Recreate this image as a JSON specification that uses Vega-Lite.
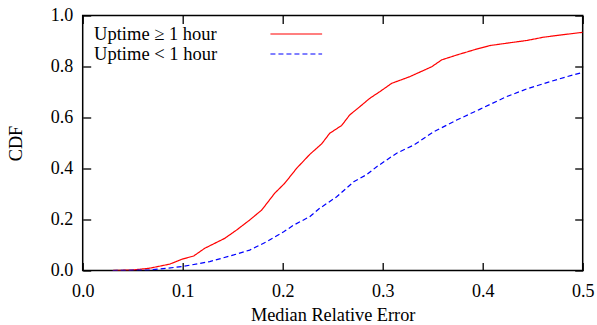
{
  "$schema": "https://vega.github.io/schema/vega-lite/v6.json",
  "width": 500,
  "height": 255,
  "autosize": {"type": "none"},
  "padding": {"left": 82.7, "top": 15.5, "right": 14.3, "bottom": 54.5},
  "background": "white",
  "config": {
    "font": "Liberation Serif",
    "view": {"stroke": "black", "strokeWidth": 1.5},
    "axis": {
      "domain": false,
      "grid": false,
      "tickSize": -8,
      "tickColor": "black",
      "tickWidth": 1.3,
      "labelFlush": false,
      "labelOverlap": false,
      "labelFont": "Liberation Serif",
      "labelFontSize": 18,
      "labelColor": "black",
      "titleFont": "Liberation Serif",
      "titleFontSize": 18.3,
      "titleFontWeight": "normal",
      "titleColor": "black"
    }
  },
  "data": {
    "values": [
      {"x": 0.03, "y": 0.0, "series": "Uptime ≥ 1 hour"},
      {"x": 0.05, "y": 0.002, "series": "Uptime ≥ 1 hour"},
      {"x": 0.067, "y": 0.009, "series": "Uptime ≥ 1 hour"},
      {"x": 0.087, "y": 0.025, "series": "Uptime ≥ 1 hour"},
      {"x": 0.099, "y": 0.044, "series": "Uptime ≥ 1 hour"},
      {"x": 0.111, "y": 0.057, "series": "Uptime ≥ 1 hour"},
      {"x": 0.122, "y": 0.087, "series": "Uptime ≥ 1 hour"},
      {"x": 0.142, "y": 0.126, "series": "Uptime ≥ 1 hour"},
      {"x": 0.154, "y": 0.159, "series": "Uptime ≥ 1 hour"},
      {"x": 0.167, "y": 0.198, "series": "Uptime ≥ 1 hour"},
      {"x": 0.179, "y": 0.237, "series": "Uptime ≥ 1 hour"},
      {"x": 0.192, "y": 0.303, "series": "Uptime ≥ 1 hour"},
      {"x": 0.202, "y": 0.342, "series": "Uptime ≥ 1 hour"},
      {"x": 0.214, "y": 0.401, "series": "Uptime ≥ 1 hour"},
      {"x": 0.227, "y": 0.455, "series": "Uptime ≥ 1 hour"},
      {"x": 0.239, "y": 0.497, "series": "Uptime ≥ 1 hour"},
      {"x": 0.247, "y": 0.538, "series": "Uptime ≥ 1 hour"},
      {"x": 0.259, "y": 0.569, "series": "Uptime ≥ 1 hour"},
      {"x": 0.267, "y": 0.61, "series": "Uptime ≥ 1 hour"},
      {"x": 0.277, "y": 0.642, "series": "Uptime ≥ 1 hour"},
      {"x": 0.287, "y": 0.675, "series": "Uptime ≥ 1 hour"},
      {"x": 0.297, "y": 0.701, "series": "Uptime ≥ 1 hour"},
      {"x": 0.309, "y": 0.734, "series": "Uptime ≥ 1 hour"},
      {"x": 0.327, "y": 0.76, "series": "Uptime ≥ 1 hour"},
      {"x": 0.349, "y": 0.799, "series": "Uptime ≥ 1 hour"},
      {"x": 0.359, "y": 0.826, "series": "Uptime ≥ 1 hour"},
      {"x": 0.374, "y": 0.845, "series": "Uptime ≥ 1 hour"},
      {"x": 0.391, "y": 0.865, "series": "Uptime ≥ 1 hour"},
      {"x": 0.407, "y": 0.882, "series": "Uptime ≥ 1 hour"},
      {"x": 0.427, "y": 0.893, "series": "Uptime ≥ 1 hour"},
      {"x": 0.444, "y": 0.902, "series": "Uptime ≥ 1 hour"},
      {"x": 0.461, "y": 0.915, "series": "Uptime ≥ 1 hour"},
      {"x": 0.481, "y": 0.925, "series": "Uptime ≥ 1 hour"},
      {"x": 0.5, "y": 0.934, "series": "Uptime ≥ 1 hour"},
      {"x": 0.03, "y": 0.0, "series": "Uptime < 1 hour"},
      {"x": 0.067, "y": 0.002, "series": "Uptime < 1 hour"},
      {"x": 0.099, "y": 0.015, "series": "Uptime < 1 hour"},
      {"x": 0.127, "y": 0.035, "series": "Uptime < 1 hour"},
      {"x": 0.151, "y": 0.061, "series": "Uptime < 1 hour"},
      {"x": 0.167, "y": 0.08, "series": "Uptime < 1 hour"},
      {"x": 0.184, "y": 0.113, "series": "Uptime < 1 hour"},
      {"x": 0.201, "y": 0.152, "series": "Uptime < 1 hour"},
      {"x": 0.211, "y": 0.178, "series": "Uptime < 1 hour"},
      {"x": 0.227, "y": 0.211, "series": "Uptime < 1 hour"},
      {"x": 0.237, "y": 0.244, "series": "Uptime < 1 hour"},
      {"x": 0.254, "y": 0.289, "series": "Uptime < 1 hour"},
      {"x": 0.271, "y": 0.348, "series": "Uptime < 1 hour"},
      {"x": 0.284, "y": 0.376, "series": "Uptime < 1 hour"},
      {"x": 0.294, "y": 0.407, "series": "Uptime < 1 hour"},
      {"x": 0.314, "y": 0.46, "series": "Uptime < 1 hour"},
      {"x": 0.331, "y": 0.492, "series": "Uptime < 1 hour"},
      {"x": 0.351, "y": 0.544, "series": "Uptime < 1 hour"},
      {"x": 0.374, "y": 0.59, "series": "Uptime < 1 hour"},
      {"x": 0.397, "y": 0.632, "series": "Uptime < 1 hour"},
      {"x": 0.424, "y": 0.682, "series": "Uptime < 1 hour"},
      {"x": 0.444, "y": 0.712, "series": "Uptime < 1 hour"},
      {"x": 0.467, "y": 0.74, "series": "Uptime < 1 hour"},
      {"x": 0.484, "y": 0.76, "series": "Uptime < 1 hour"},
      {"x": 0.5, "y": 0.777, "series": "Uptime < 1 hour"}
    ]
  },
  "layer": [
    {
      "mark": {"type": "line", "strokeWidth": 1.2, "clip": true},
      "encoding": {
        "x": {
          "field": "x", "type": "quantitative",
          "scale": {"domain": [0, 0.5], "nice": false, "zero": false},
          "axis": {"orient": "bottom", "values": [0, 0.1, 0.2, 0.3, 0.4, 0.5], "format": ".1f", "labelPadding": 20, "title": "Median Relative Error", "titlePadding": 6}
        },
        "y": {
          "field": "y", "type": "quantitative",
          "scale": {"domain": [0, 1], "nice": false},
          "axis": {"orient": "left", "values": [0, 0.2, 0.4, 0.6, 0.8, 1.0], "format": ".1f", "labelPadding": 18, "title": "CDF", "titlePadding": 25}
        },
        "color": {
          "field": "series", "type": "nominal",
          "scale": {"domain": ["Uptime ≥ 1 hour", "Uptime < 1 hour"], "range": ["#ff0000", "#0000ff"]},
          "legend": {
            "title": null,
            "orient": "none",
            "legendX": 10.6,
            "legendY": 8,
            "padding": 0,
            "symbolType": "M 17.54 0 H 22.98",
            "symbolSize": 361,
            "symbolStrokeWidth": 1.2,
            "symbolOffset": 0,
            "labelOffset": -20.2,
            "rowPadding": -1,
            "labelFont": "Liberation Serif",
            "labelFontSize": 18.5,
            "labelColor": "black",
            "labelLimit": 400,
            "encode": {
              "symbols": {
                "update": {
                  "stroke": {"scale": "color", "field": "value"},
                  "strokeDash": {"scale": "strokeDash", "field": "value"},
                  "fill": {"value": "transparent"}
                }
              }
            }
          }
        },
        "strokeDash": {
          "field": "series", "type": "nominal",
          "scale": {"domain": ["Uptime ≥ 1 hour", "Uptime < 1 hour"], "range": [[1, 0], [5, 3]]},
          "legend": null
        }
      }
    },
    {
      "mark": {"type": "line", "opacity": 0},
      "encoding": {
        "x": {
          "field": "x", "type": "quantitative",
          "axis": {"orient": "top", "values": [0, 0.1, 0.2, 0.3, 0.4, 0.5], "labels": false, "title": null}
        },
        "y": {
          "field": "y", "type": "quantitative",
          "axis": {"orient": "right", "values": [0, 0.2, 0.4, 0.6, 0.8, 1.0], "labels": false, "title": null}
        },
        "detail": {"field": "series"}
      }
    }
  ],
  "resolve": {"axis": {"x": "independent", "y": "independent"}}
}
